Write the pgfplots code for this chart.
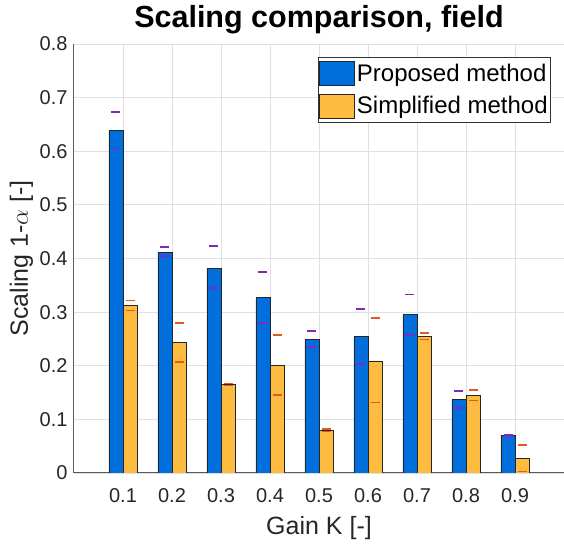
\documentclass[border=0pt]{standalone}
\usepackage{pgfplots}
\pgfplotsset{compat=1.18}
\usepackage{pgfplotstable}
\usepackage{fontspec}
\setmainfont{Liberation Sans}
\definecolor{barblue}{RGB}{0,110,220}
\definecolor{barorange}{RGB}{253,188,64}
\definecolor{dpurple}{RGB}{130,40,190}
\definecolor{dorange}{RGB}{225,90,30}
\definecolor{axgray}{RGB}{90,90,90}
\pgfplotsset{mylegend/.style={legend image code/.code={\draw[#1] (0pt,-12pt) rectangle (35pt,12pt);}}}
\pgfplotstableread{
x    b      o      bh     bl     oh     ol
0.1  0.638  0.312  0.673  0.605  0.322  0.303
0.2  0.412  0.243  0.421  0.405  0.280  0.207
0.3  0.382  0.165  0.423  0.345  0.167  0.163
0.4  0.327  0.201  0.375  0.280  0.257  0.145
0.5  0.249  0.079  0.265  0.235  0.082  0.077
0.6  0.254  0.209  0.306  0.203  0.289  0.131
0.7  0.295  0.254  0.333  0.257  0.261  0.249
0.8  0.137  0.145  0.153  0.121  0.155  0.135
0.9  0.070  0.027  0.071  0.069  0.052  0.003
}\data
\begin{document}
\begin{tikzpicture}
\begin{axis}[
  name=ax,
  scale only axis, width=490pt, height=429pt,
  xmin=0, xmax=1, ymin=0, ymax=0.8,
  xtick={0.1,0.2,0.3,0.4,0.5,0.6,0.7,0.8,0.9},
  xticklabels={0.1,0.2,0.3,0.4,0.5,0.6,0.7,0.8,0.9},
  ytick={0,0.1,0.2,0.3,0.4,0.5,0.6,0.7,0.8},
  yticklabels={0,0.1,0.2,0.3,0.4,0.5,0.6,0.7,0.8},
  /pgf/number format/assume math mode=true,
  axis lines*=left,
  axis line style={draw=axgray, line width=1pt},
  major tick length=0pt,
  grid=major,
  major grid style={draw=black!12, line width=0.8pt},
  tick label style={font=\fontsize{20}{24}\selectfont, text=black!85},
  xticklabel style={anchor=base, yshift=-30pt},
  yticklabel style={anchor=east, xshift=-3pt},
  title={\textbf{Scaling comparison, field}},
  title style={font=\fontsize{30.5}{36}\selectfont, at={(axis description cs:0.5,1.0245)}, anchor=base},
  xlabel={Gain K [-]},
  xlabel style={font=\fontsize{25}{30}\selectfont, text=black!85, at={(axis description cs:0.5,-0.1445)}, anchor=base},
  ylabel={Scaling 1-$\alpha$ [-]},
  ylabel style={font=\fontsize{25}{30}\selectfont, text=black!85, at={(axis description cs:-0.0939,0.5)}, anchor=base},
  legend style={at={(axis description cs:0.9735,0.9697)}, anchor=north east,
    font=\fontsize{24}{28}\selectfont, draw=black!80, line width=0.6pt, fill=white,
    inner xsep=1pt, inner ysep=3.5pt, row sep=8pt},
  legend cell align=left,
]
\addplot[ybar, bar width=0.0286, bar shift=-0.0143, fill=barblue, draw=black!85, line width=0.8pt, mylegend] table[x=x,y=b]{\data};
\addlegendentry{Proposed method}
\addplot[ybar, bar width=0.0286, bar shift=0.0143, fill=barorange, draw=black!85, line width=0.8pt, mylegend] table[x=x,y=o]{\data};
\addlegendentry{Simplified method}
\addplot[only marks, mark=-, mark size=4.5pt, mark options={line width=1.5pt, draw=dpurple}, forget plot] table[x expr=\thisrow{x}-0.0143, y=bh]{\data};
\addplot[only marks, mark=-, mark size=4.5pt, mark options={line width=1.5pt, draw=dpurple}, forget plot] table[x expr=\thisrow{x}-0.0143, y=bl]{\data};
\addplot[only marks, mark=-, mark size=4.5pt, mark options={line width=1.5pt, draw=dorange}, forget plot] table[x expr=\thisrow{x}+0.0143, y=oh]{\data};
\addplot[only marks, mark=-, mark size=4.5pt, mark options={line width=1.5pt, draw=dorange}, forget plot] table[x expr=\thisrow{x}+0.0143, y=ol]{\data};
\end{axis}
\pgfresetboundingbox
\path ([shift={(-74pt,-71pt)}]ax.south west) rectangle ([shift={(0pt,44pt)}]ax.north east);
\end{tikzpicture}
\end{document}
